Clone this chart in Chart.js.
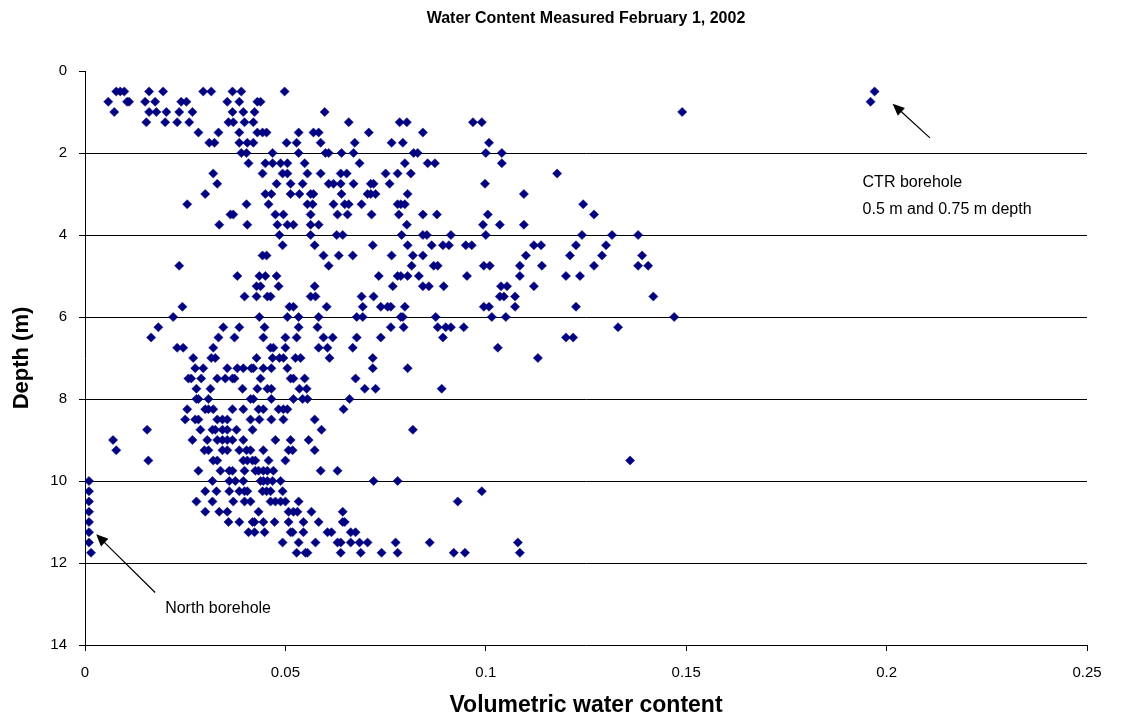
<!DOCTYPE html>
<html>
<head>
<meta charset="utf-8">
<title>Water Content Measured February 1, 2002</title>
<script src="https://cdn.jsdelivr.net/npm/chart.js@4.4.1/dist/chart.umd.min.js"></script>
<style>
  html, body { margin: 0; padding: 0; background: #fff; }
  #wrap { width: 1122px; height: 719px; }
</style>
</head>
<body>
<div id="wrap"><canvas id="waterChart" width="1122" height="719"></canvas></div>
<script>
// depth of each probe reading (m) and the water contents read at that depth
const depthLevels = [0.5, 0.75, 1, 1.25, 1.5, 1.75, 2, 2.25, 2.5, 2.75, 3, 3.25, 3.5, 3.75,
  4, 4.25, 4.5, 4.75, 5, 5.25, 5.5, 5.75, 6, 6.25, 6.5, 6.75, 7, 7.25, 7.5, 7.75,
  8, 8.25, 8.5, 8.75, 9, 9.25, 9.5, 9.75, 10, 10.25, 10.5, 10.75, 11, 11.25, 11.5, 11.75];

const waterContent = [
  [0.0078, 0.0088, 0.0098, 0.016, 0.0195, 0.0295, 0.0315, 0.0368, 0.039, 0.0498],
  [0.0058, 0.0105, 0.011, 0.015, 0.0175, 0.024, 0.0253, 0.0355, 0.0385, 0.043, 0.0438],
  [0.0073, 0.016, 0.0178, 0.0203, 0.0235, 0.0268, 0.0368, 0.0395, 0.0423, 0.0598, 0.149],
  [0.0153, 0.02, 0.023, 0.026, 0.0358, 0.037, 0.0398, 0.042, 0.0658, 0.0785, 0.0803, 0.0968, 0.099],
  [0.0283, 0.0333, 0.0385, 0.043, 0.0443, 0.0453, 0.0533, 0.057, 0.0583, 0.0708, 0.0843],
  [0.031, 0.0323, 0.0385, 0.0405, 0.042, 0.0503, 0.0528, 0.0588, 0.0673, 0.0765, 0.0793, 0.1008],
  [0.039, 0.0403, 0.0468, 0.0533, 0.06, 0.0608, 0.064, 0.067, 0.082, 0.083, 0.1, 0.104],
  [0.0408, 0.045, 0.0468, 0.0488, 0.0505, 0.0548, 0.0685, 0.0798, 0.0855, 0.0873, 0.104],
  [0.032, 0.0443, 0.0493, 0.0505, 0.0555, 0.0588, 0.0638, 0.0653, 0.075, 0.078, 0.0813, 0.1178],
  [0.033, 0.0478, 0.0513, 0.0543, 0.0608, 0.062, 0.0638, 0.067, 0.0713, 0.072, 0.076, 0.0998],
  [0.03, 0.045, 0.0465, 0.0513, 0.0535, 0.0563, 0.057, 0.064, 0.0705, 0.0713, 0.0725, 0.0805, 0.1095],
  [0.0255, 0.0403, 0.0458, 0.0555, 0.0568, 0.062, 0.0648, 0.0658, 0.069, 0.078, 0.0788, 0.0798, 0.1243],
  [0.0363, 0.037, 0.0475, 0.0495, 0.0563, 0.063, 0.0655, 0.0715, 0.0783, 0.0843, 0.0878, 0.1005, 0.127],
  [0.0335, 0.0405, 0.048, 0.0505, 0.052, 0.0563, 0.0583, 0.0803, 0.0993, 0.1035, 0.1095],
  [0.0485, 0.0563, 0.0628, 0.0643, 0.079, 0.0843, 0.0853, 0.0913, 0.1, 0.124, 0.1315, 0.138],
  [0.0493, 0.0573, 0.0718, 0.0805, 0.0865, 0.0893, 0.0908, 0.095, 0.0965, 0.112, 0.1138, 0.1225, 0.13],
  [0.0443, 0.0453, 0.0595, 0.0633, 0.0668, 0.0765, 0.0818, 0.0843, 0.11, 0.121, 0.129, 0.139],
  [0.0235, 0.0608, 0.0815, 0.087, 0.088, 0.0995, 0.101, 0.1085, 0.114, 0.127, 0.138, 0.1405],
  [0.038, 0.0435, 0.045, 0.0478, 0.0733, 0.078, 0.0788, 0.0805, 0.0833, 0.0953, 0.1085, 0.12, 0.1235],
  [0.0428, 0.0438, 0.0483, 0.0573, 0.0768, 0.0843, 0.0858, 0.0895, 0.1038, 0.1053, 0.112],
  [0.0398, 0.0428, 0.0455, 0.0463, 0.0563, 0.0575, 0.069, 0.072, 0.1035, 0.1045, 0.1073, 0.1418],
  [0.0243, 0.051, 0.052, 0.0603, 0.0693, 0.0738, 0.0755, 0.0763, 0.0798, 0.0995, 0.1008, 0.1073, 0.1225],
  [0.022, 0.0435, 0.0505, 0.0533, 0.0583, 0.0678, 0.0693, 0.0788, 0.0793, 0.0875, 0.1015, 0.105, 0.147],
  [0.0183, 0.0345, 0.0385, 0.0448, 0.0533, 0.058, 0.0763, 0.0795, 0.088, 0.09, 0.0913, 0.0945, 0.133],
  [0.0165, 0.0333, 0.0373, 0.0445, 0.05, 0.0528, 0.0595, 0.0618, 0.0678, 0.0738, 0.0893, 0.12, 0.1218],
  [0.023, 0.0245, 0.032, 0.0463, 0.047, 0.05, 0.0583, 0.0605, 0.0668, 0.103],
  [0.027, 0.0315, 0.0325, 0.0428, 0.0468, 0.0485, 0.0495, 0.0525, 0.0538, 0.061, 0.0718, 0.113],
  [0.0275, 0.0295, 0.0355, 0.038, 0.0395, 0.0415, 0.042, 0.0445, 0.0465, 0.0505, 0.0718, 0.0805],
  [0.0258, 0.0265, 0.029, 0.033, 0.035, 0.0368, 0.0373, 0.0438, 0.0513, 0.052, 0.0548, 0.0675],
  [0.0278, 0.0313, 0.0393, 0.043, 0.0455, 0.0465, 0.0535, 0.0553, 0.0698, 0.0725, 0.089],
  [0.0278, 0.0283, 0.0308, 0.0413, 0.042, 0.0465, 0.052, 0.0543, 0.0555, 0.066],
  [0.0255, 0.03, 0.0308, 0.032, 0.0368, 0.0395, 0.0433, 0.0445, 0.0483, 0.0495, 0.0505, 0.0645],
  [0.025, 0.0275, 0.0283, 0.033, 0.0343, 0.0355, 0.0413, 0.0435, 0.0465, 0.0495, 0.0573],
  [0.0155, 0.0288, 0.0318, 0.0325, 0.0343, 0.0355, 0.0378, 0.0418, 0.059, 0.0818],
  [0.007, 0.0268, 0.0305, 0.033, 0.0343, 0.0355, 0.0368, 0.0395, 0.0475, 0.0513, 0.0558],
  [0.0078, 0.0298, 0.0308, 0.0343, 0.0355, 0.0385, 0.0403, 0.0413, 0.0445, 0.0508, 0.0518, 0.0573],
  [0.0158, 0.032, 0.033, 0.0395, 0.0405, 0.0418, 0.0425, 0.0458, 0.05, 0.136],
  [0.0283, 0.0338, 0.036, 0.0368, 0.0398, 0.0425, 0.0433, 0.0445, 0.0455, 0.047, 0.0588, 0.063],
  [0.0318, 0.036, 0.0375, 0.0395, 0.0438, 0.0445, 0.0455, 0.0468, 0.0488, 0.072, 0.078],
  [0.03, 0.0328, 0.036, 0.0385, 0.0398, 0.0405, 0.0443, 0.0453, 0.0463, 0.0493, 0.099],
  [0.0278, 0.0318, 0.037, 0.0398, 0.0413, 0.0463, 0.0475, 0.0488, 0.05, 0.0533, 0.093],
  [0.03, 0.0335, 0.0355, 0.0433, 0.0508, 0.052, 0.053, 0.0565, 0.0643],
  [0.0358, 0.0385, 0.0418, 0.0423, 0.0445, 0.0473, 0.0508, 0.0545, 0.0583, 0.0643, 0.0648],
  [0.0408, 0.0423, 0.0448, 0.0513, 0.0518, 0.0545, 0.0605, 0.0615, 0.0663, 0.0675],
  [0.0493, 0.0533, 0.0575, 0.063, 0.0638, 0.0663, 0.0685, 0.0705, 0.0775, 0.086, 0.108],
  [0.0528, 0.055, 0.0555, 0.0638, 0.0688, 0.074, 0.078, 0.092, 0.0948, 0.1085]
];

// the two odd boreholes that got labelled
const ctrDepths = [0.5, 0.75];
const ctrValues = [0.197, 0.196];
const northDepths = [10, 10.25, 10.5, 10.75, 11, 11.25, 11.5, 11.75];
const northValues = [0.001, 0.001, 0.001, 0.001, 0.001, 0.001, 0.001, 0.0015];

const xTicks = [0, 0.05, 0.1, 0.15, 0.2, 0.25];
const xTickLabels = ["0", "0.05", "0.1", "0.15", "0.2", "0.25"];
const yTicks = [0, 2, 4, 6, 8, 10, 12, 14];

const chartTitle = "Water Content Measured February 1, 2002";

// notes with arrows, positioned in data units
const notes = [
  { lines: ["CTR borehole", "0.5 m and 0.75 m depth"], x: 0.194, y: 2.73, from: [0.2108, 1.63], to: [0.2015, 0.8] },
  { lines: ["North borehole"], x: 0.02, y: 13.1, from: [0.0175, 12.72], to: [0.0028, 11.3] }
];

const points = [];
depthLevels.forEach((d, i) => {
  waterContent[i].forEach(v => points.push({ x: v, y: d }));
});
ctrDepths.forEach((d, i) => points.push({ x: ctrValues[i], y: d }));
northDepths.forEach((d, i) => points.push({ x: northValues[i], y: d }));

const FONT = "Arial, 'Liberation Sans', sans-serif";

// title centred over the plot area, plus the arrow notes
const notePlugin = {
  id: "notes",
  afterDatasetsDraw(chart) {
    const ctx = chart.ctx;
    const xs = chart.scales.x, ys = chart.scales.y;
    const area = chart.chartArea;
    ctx.save();
    ctx.fillStyle = "#000";
    ctx.strokeStyle = "#000";

    ctx.font = "bold 16px " + FONT;
    ctx.textAlign = "center";
    ctx.textBaseline = "middle";
    ctx.fillText(chartTitle, (area.left + area.right) / 2, 19);

    ctx.textAlign = "left";
    ctx.font = "16px " + FONT;
    notes.forEach(n => {
      n.lines.forEach((t, k) => {
        ctx.fillText(t, xs.getPixelForValue(n.x), ys.getPixelForValue(n.y) + k * 27);
      });
      const x1 = xs.getPixelForValue(n.from[0]), y1 = ys.getPixelForValue(n.from[1]);
      const x2 = xs.getPixelForValue(n.to[0]), y2 = ys.getPixelForValue(n.to[1]);
      const a = Math.atan2(y2 - y1, x2 - x1);
      const head = 13, spread = 0.42;
      ctx.lineWidth = 1.2;
      ctx.beginPath();
      ctx.moveTo(x1, y1);
      ctx.lineTo(x2 - Math.cos(a) * head * 0.8, y2 - Math.sin(a) * head * 0.8);
      ctx.stroke();
      ctx.beginPath();
      ctx.moveTo(x2, y2);
      ctx.lineTo(x2 - head * Math.cos(a - spread), y2 - head * Math.sin(a - spread));
      ctx.lineTo(x2 - head * Math.cos(a + spread), y2 - head * Math.sin(a + spread));
      ctx.closePath();
      ctx.fill();
    });
    ctx.restore();
  }
};

new Chart(document.getElementById("waterChart"), {
  type: "scatter",
  data: {
    datasets: [{
      label: "Water content",
      data: points,
      pointStyle: "rectRot",
      pointRadius: 4.6,
      pointBackgroundColor: "#000080",
      pointBorderColor: "#000080",
      pointBorderWidth: 0.5
    }]
  },
  options: {
    responsive: false,
    animation: false,
    events: [],
    layout: { padding: { left: 0, right: 35, top: 71, bottom: 0 } },
    plugins: {
      legend: { display: false },
      tooltip: { enabled: false },
      title: { display: false }
    },
    scales: {
      x: {
        type: "linear",
        min: xTicks[0],
        max: xTicks[xTicks.length - 1],
        afterBuildTicks: s => { s.ticks = xTicks.map(v => ({ value: v })); },
        afterFit: s => { s.height = 74; },
        ticks: {
          color: "#000",
          font: { family: FONT, size: 15 },
          padding: 13,
          maxRotation: 0,
          callback: (v, i) => xTickLabels[i]
        },
        grid: { drawOnChartArea: false, drawTicks: true, tickLength: 6, tickColor: "#000" },
        border: { color: "#000", width: 1 },
        title: {
          display: true,
          text: "Volumetric water content",
          color: "#000",
          font: { family: FONT, size: 23, weight: "bold" },
          padding: { top: 0, bottom: 0 }
        }
      },
      y: {
        type: "linear",
        reverse: true,
        min: yTicks[0],
        max: yTicks[yTicks.length - 1],
        afterBuildTicks: s => { s.ticks = yTicks.map(v => ({ value: v })); },
        afterFit: s => { s.width = 85; },
        ticks: { color: "#000", font: { family: FONT, size: 15 }, padding: 12 },
        grid: {
          color: c => (c.tick && (c.tick.value === 0 || c.tick.value === 14)) ? "rgba(0,0,0,0)" : "#000",
          tickColor: "#000",
          tickLength: 6,
          lineWidth: 1
        },
        border: { color: "#000", width: 1 },
        title: {
          display: true,
          text: "Depth (m)",
          color: "#000",
          font: { family: FONT, size: 22, weight: "bold" },
          padding: { top: 9, bottom: 0 }
        }
      }
    }
  },
  plugins: [notePlugin]
});
</script>
</body>
</html>
